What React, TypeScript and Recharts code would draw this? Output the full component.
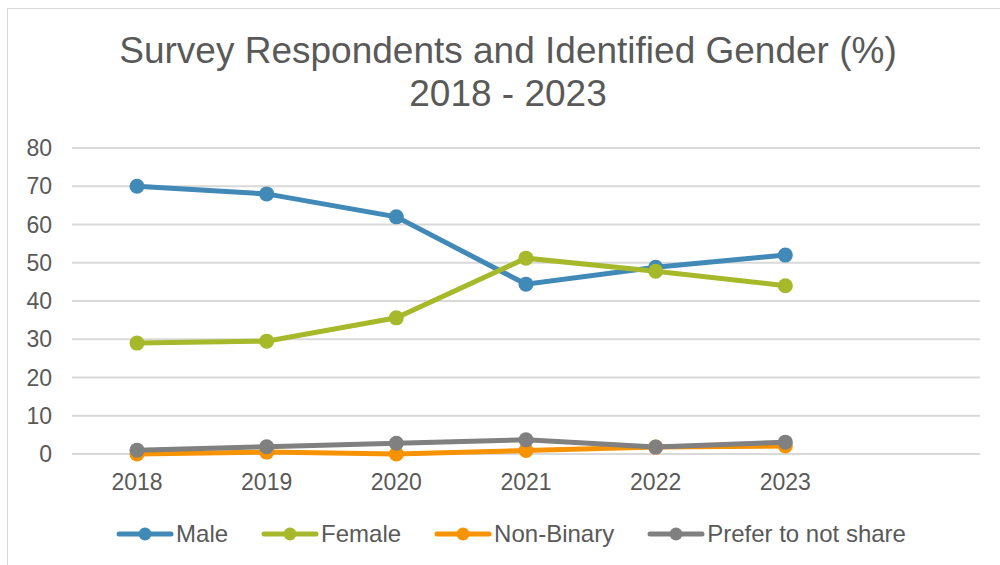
import React from 'react'
import { CartesianGrid, Line, LineChart, XAxis, YAxis } from 'recharts'

const years = ['2018', '2019', '2020', '2021', '2022', '2023', '']
const male = [70, 68, 62, 44.4, 48.8, 52, null]
const female = [29, 29.5, 35.6, 51.2, 47.8, 44, null]
const nonBinary = [0, 0.5, 0, 0.9, 1.8, 2.1, null]
const preferNot = [1, 1.9, 2.8, 3.7, 1.8, 3.1, null]
const yTicks = [0, 10, 20, 30, 40, 50, 60, 70, 80]

const series = [
    { key: 'male', name: 'Male', color: '#4189b6', values: male },
    { key: 'female', name: 'Female', color: '#a6b92b', values: female },
    { key: 'nonBinary', name: 'Non-Binary', color: '#f79200', values: nonBinary },
    { key: 'preferNot', name: 'Prefer to not share', color: '#808080', values: preferNot },
]

const data = years.map((year, i) => {
    const row: Record<string, string | number | null> = { year }
    series.forEach((s) => {
        row[s.key] = s.values[i]
    })
    return row
})

const font = '"Liberation Sans", Arial, sans-serif'
const textColor = '#595959'

const LegendIcon = ({ color }: { color: string }) => (
    <svg width={58} height={16} style={{ display: 'block' }}>
        <line x1={3} y1={8} x2={55} y2={8} stroke={color} strokeWidth={5} strokeLinecap="round" />
        <circle cx={29} cy={8} r={6.5} fill={color} />
    </svg>
)

export default function App() {
    return (
        <div style={{ position: 'absolute', left: 0, top: 0, width: 1000, height: 565, overflow: 'hidden', background: '#fff', fontFamily: font }}>
            <div style={{ position: 'absolute', left: 7, top: 8, width: 1100, height: 700, border: '1px solid #d9d9d9' }} />
            <div
                style={{
                    position: 'absolute',
                    left: 16,
                    top: 29,
                    width: 984,
                    textAlign: 'center',
                    fontSize: 37,
                    lineHeight: '43px',
                    color: textColor,
                }}
            >
                Survey Respondents and Identified Gender (%)
                <br />
                2018 - 2023
            </div>
            <div style={{ position: 'absolute', left: 0, top: 0 }}>
                <LineChart width={1000} height={565} data={data} margin={{ top: 148, right: 20, bottom: 81, left: 0 }}>
                    <CartesianGrid vertical={false} stroke="#d9d9d9" strokeWidth={2} />
                    <XAxis
                        dataKey="year"
                        height={30}
                        axisLine={false}
                        tickLine={false}
                        tickMargin={14}
                        interval={0}
                        padding={{ left: 65, right: 65 }}
                        tick={{ fill: textColor, fontSize: 23, fontFamily: font }}
                    />
                    <YAxis
                        domain={[0, 80]}
                        ticks={yTicks}
                        width={72}
                        axisLine={false}
                        tickLine={false}
                        tickMargin={14}
                        tick={{ fill: textColor, fontSize: 23, fontFamily: font }}
                    />
                    {series.map((s) => (
                        <Line
                            key={s.key}
                            dataKey={s.key}
                            name={s.name}
                            type="linear"
                            stroke={s.color}
                            strokeWidth={5}
                            dot={{ r: 7.5, fill: s.color, stroke: s.color, strokeWidth: 0 }}
                            activeDot={false}
                            isAnimationActive={false}
                        />
                    ))}
                </LineChart>
            </div>
            <div
                style={{
                    position: 'absolute',
                    left: 0,
                    top: 520,
                    width: 1022,
                    display: 'flex',
                    justifyContent: 'center',
                    alignItems: 'center',
                    fontSize: 24,
                    color: textColor,
                }}
            >
                {series.map((s, i) => (
                    <div key={s.key} style={{ display: 'flex', alignItems: 'center', marginLeft: i === 0 ? 0 : 33 }}>
                        <LegendIcon color={s.color} />
                        <span style={{ marginLeft: 2 }}>{s.name}</span>
                    </div>
                ))}
            </div>
        </div>
    )
}
